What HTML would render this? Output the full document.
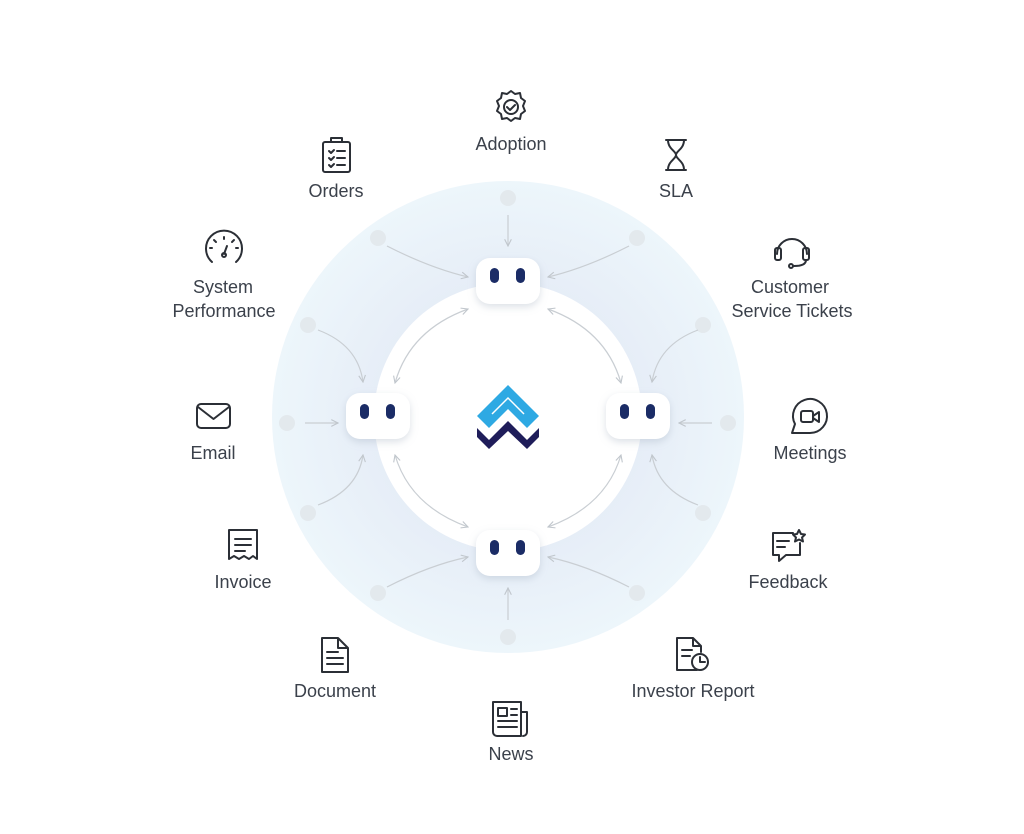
<!DOCTYPE html>
<html><head><meta charset="utf-8"><style>
body{margin:0;background:#fff;}
svg{display:block}
text{font-family:"Liberation Sans",sans-serif;font-size:18px;fill:#3b414b;text-anchor:middle}
.ic{fill:none;stroke:#2b2f36;stroke-width:2;stroke-linecap:round;stroke-linejoin:round}
.ar{fill:none;stroke:#c9ced3;stroke-width:1.2}
</style></head><body>
<svg width="1024" height="834" viewBox="0 0 1024 834">
<defs>
<radialGradient id="bg" cx="0.5" cy="0.5" r="0.5">
<stop offset="0.55" stop-color="#e6edf7"/><stop offset="1" stop-color="#edf6fb"/>
</radialGradient>
<filter id="sh" x="-50%" y="-50%" width="200%" height="200%"><feDropShadow dx="0" dy="3" stdDeviation="4" flood-color="#9aa7b8" flood-opacity="0.35"/></filter>
<marker id="m" viewBox="0 0 10 10" refX="9" refY="5" markerWidth="7" markerHeight="7" orient="auto-start-reverse"><path d="M1 1 L9 5 L1 9" fill="none" stroke="#c0c6cc" stroke-width="1.3"/></marker>
</defs>
<circle cx="508" cy="417" r="236" fill="url(#bg)"/>
<circle cx="508" cy="417" r="134" fill="#fff"/>
<g fill="#e3e9ed">
<circle cx="508" cy="198" r="8"/><circle cx="378" cy="238" r="8"/><circle cx="637" cy="238" r="8"/>
<circle cx="308" cy="325" r="8"/><circle cx="703" cy="325" r="8"/><circle cx="287" cy="423" r="8"/>
<circle cx="728" cy="423" r="8"/><circle cx="308" cy="513" r="8"/><circle cx="703" cy="513" r="8"/>
<circle cx="378" cy="593" r="8"/><circle cx="637" cy="593" r="8"/><circle cx="508" cy="637" r="8"/>
</g>
<g class="ar" marker-end="url(#m)">
<path d="M508 215 L508 246"/>
<path d="M387 246 Q430 268 468 277"/>
<path d="M629 246 Q586 268 548 277"/>
<path d="M318 330 Q358 345 363 382"/>
<path d="M698 330 Q658 345 652 382"/>
<path d="M305 423 L338 423"/>
<path d="M712 423 L679 423"/>
<path d="M318 505 Q358 490 363 455"/>
<path d="M698 505 Q658 490 652 455"/>
<path d="M387 587 Q430 565 468 557"/>
<path d="M629 587 Q586 565 548 557"/>
<path d="M508 620 L508 588"/>
</g>
<g class="ar" marker-start="url(#m)" marker-end="url(#m)">
<path d="M468 309 Q410 330 395 383"/>
<path d="M548 309 Q606 330 621 383"/>
<path d="M395 455 Q410 506 468 527"/>
<path d="M621 455 Q606 506 548 527"/>
</g>
<g filter="url(#sh)" fill="#fff">
<rect x="476" y="258" width="64" height="46" rx="14"/>
<rect x="346" y="393" width="64" height="46" rx="14"/>
<rect x="606" y="393" width="64" height="46" rx="14"/>
<rect x="476" y="530" width="64" height="46" rx="14"/>
</g>
<g fill="#1b2c66">
<rect x="490" y="268" width="9" height="15" rx="4.5"/><rect x="516" y="268" width="9" height="15" rx="4.5"/>
<rect x="360" y="404" width="9" height="15" rx="4.5"/><rect x="386" y="404" width="9" height="15" rx="4.5"/>
<rect x="620" y="404" width="9" height="15" rx="4.5"/><rect x="646" y="404" width="9" height="15" rx="4.5"/>
<rect x="490" y="540" width="9" height="15" rx="4.5"/><rect x="516" y="540" width="9" height="15" rx="4.5"/>
</g>
<path d="M477 428 L477 437 L489 449 L508 431 L527 449 L539 437 L539 428 L527 440 L508 421 L489 440 Z" fill="#1f1d5a"/>
<path d="M508 385 L539 416 L527 428 L508 409 L489 428 L477 416 Z" fill="#2ea9e3"/>
<path d="M492 414 L508 398 L524 414" fill="none" stroke="#fff" stroke-width="1.5"/>
<g class="ic">
<path d="M511 91 l4 3 5 -1 1 5 4 3 -2 5 2 5 -4 3 -1 5 -5 -1 -4 3 -4 -3 -5 1 -1 -5 -4 -3 2 -5 -2 -5 4 -3 1 -5 5 1z"/>
<circle cx="511" cy="107" r="7"/><path d="M507 107 l3 3 5 -5"/>
<path d="M666 140 h20 M666 170 h20 M668 140 c0 9 8 11 8 15 c0 4 -8 6 -8 15 M684 140 c0 9 -8 11 -8 15 c0 4 8 6 8 15"/>
<rect x="323" y="142" width="27" height="30" rx="2"/><path d="M331 142 v-4 h11 v4 M329 151 l2 2 3 -3 M337 151 h8 M329 158 l2 2 3 -3 M337 158 h8 M329 165 l2 2 3 -3 M337 165 h8"/>
<path d="M212 262 a18 18 0 1 1 24 0"/><path d="M224 254 l3 -8"/><circle cx="224" cy="255" r="2"/><path d="M210 248 h2 M238 248 h-2 M224 237 v2 M214 240 l2 2 M234 240 l-2 2"/>
<path d="M777 254 a15 15 0 0 1 30 0"/><rect x="775" y="248" width="6" height="12" rx="2"/><rect x="803" y="248" width="6" height="12" rx="2"/><path d="M806 260 q0 6 -12 6"/><circle cx="791" cy="266" r="2"/>
<rect x="197" y="404" width="33" height="24" rx="4"/><path d="M198 407 l15.5 12 l15.5 -12"/>
<path d="M810 433 a17 17 0 1 0 -15 -9 l-3 9 z"/><rect x="801" y="411" width="12" height="11" rx="2"/><path d="M813 416 l6 -4 v10 l-6 -4"/>
<path d="M229 530 h28 v29 l-4 -3 -4 3 -5 -3 -5 3 -5 -3 -5 3z"/><path d="M235 539 h16 M235 545 h16 M235 551 h10"/>
<path d="M793 533 h-20 v22 h6 v6 l7 -6 h14 v-12"/><path d="M777 541 h12 M777 547 h8"/><path d="M799 530 l2 4 4 .5 -3 3 1 4 -4 -2 -4 2 1 -4 -3 -3 4 -.5z"/>
<path d="M322 638 h16 l10 10 v24 h-26z M338 638 v10 h10 M327 652 h11 M327 658 h16 M327 664 h16"/>
<path d="M677 638 h16 l8 8 v6 M697 670 h-20 v-32 M693 638 v8 h8 M682 650 h10 M682 656 h8"/><circle cx="700" cy="662" r="8"/><path d="M700 657 v5 h5"/>
<path d="M493 702 h28 v34 h-24 a4 4 0 0 1 -4 -4z M521 712 h6 v20 a4 4 0 0 1 -4 4"/><rect x="498" y="708" width="9" height="8"/><path d="M511 709 h6 M511 715 h6 M498 721 h19 M498 727 h19"/>
</g>
<text x="511" y="150">Adoption</text>
<text x="676" y="197">SLA</text>
<text x="336" y="197">Orders</text>
<text x="223" y="293">System</text><text x="224" y="317">Performance</text>
<text x="790" y="293">Customer</text><text x="792" y="317">Service Tickets</text>
<text x="213" y="459">Email</text>
<text x="810" y="459">Meetings</text>
<text x="243" y="588">Invoice</text>
<text x="788" y="588">Feedback</text>
<text x="335" y="697">Document</text>
<text x="693" y="697">Investor Report</text>
<text x="511" y="760">News</text>
</svg>
</body></html>
